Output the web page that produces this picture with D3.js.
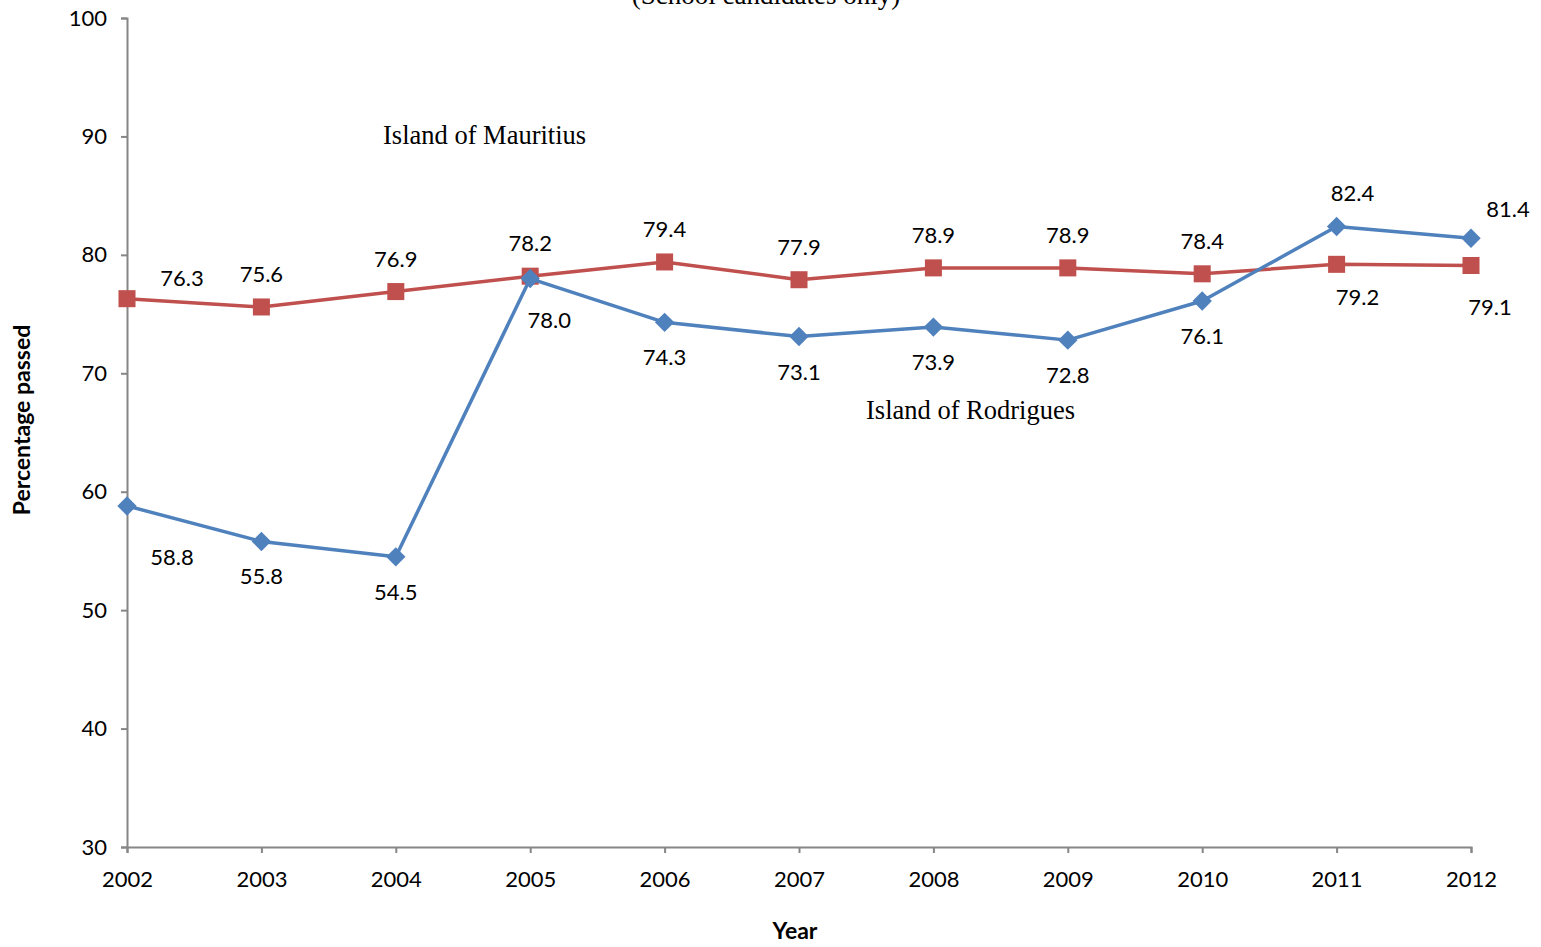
<!DOCTYPE html>
<html><head><meta charset="utf-8">
<script src="https://cdn.jsdelivr.net/npm/d3@7"></script>
<style>body{margin:0;background:#fff}svg{display:block}</style>
</head><body>
<script>
const years = [2002,2003,2004,2005,2006,2007,2008,2009,2010,2011,2012];
const mauritius = [76.3,75.6,76.9,78.2,79.4,77.9,78.9,78.9,78.4,79.2,79.1];
const rodrigues = [58.8,55.8,54.5,78.0,74.3,73.1,73.9,72.8,76.1,82.4,81.4];
const mauritiusLabelPos = ["ur","a","a","a","a","a","a","a","a","dr","drr"];
const rodriguesLabelPos = ["drf","b","b","drr","b","b","b","b","b","ul","ulr"];
const yTicks = [30,40,50,60,70,80,90,100];

const W=1541,H=947;
const svg=d3.select("body").append("svg").attr("width",W).attr("height",H);
const x=d3.scalePoint().domain(years).range([127,1471]);
const y=d3.scaleLinear().domain([30,100]).range([847,18]);
const axisColor="#868686";
const font="Lato, 'Open Sans', sans-serif";
const serif="'Liberation Serif', serif";

const ya=svg.append("g").attr("transform","translate(127,0)")
  .call(d3.axisLeft(y).tickValues(yTicks).tickSize(6).tickPadding(14));
const xa=svg.append("g").attr("transform","translate(0,847)")
  .call(d3.axisBottom(x).tickSize(6).tickPadding(18));
[ya,xa].forEach(a=>{
  a.selectAll("path,line").attr("stroke",axisColor).attr("stroke-width",2);
  a.selectAll("text").attr("font-family",font).attr("font-size",22).attr("fill","#000");
});

svg.append("text").attr("transform","translate(30,420) rotate(-90)")
  .attr("text-anchor","middle").attr("font-family",font).attr("font-weight","bold")
  .attr("font-size",23).text("Percentage passed");
svg.append("text").attr("x",795).attr("y",939).attr("text-anchor","middle")
  .attr("font-family",font).attr("font-weight","bold").attr("font-size",23).text("Year");

svg.append("text").attr("x",766).attr("y",4).attr("text-anchor","middle")
  .attr("font-family",serif).attr("font-size",27).text("(School candidates only)");

const line=d3.line().x(d=>x(d[0])).y(d=>y(d[1]));
const off={a:[0,-33],b:[0,35],ur:[55,-21],dr:[21,33],drr:[19,41],drf:[45,51],ul:[16,-33],ulr:[37,-29]};
function series(vals,color,shape,pos){
  const pts=years.map((yr,i)=>[yr,vals[i]]);
  svg.append("path").datum(pts).attr("d",line).attr("fill","none")
    .attr("stroke",color).attr("stroke-width",3.5).attr("stroke-linejoin","round");
  const sym=d3.symbol().type(shape==="square"?d3.symbolSquare:d3.symbolDiamond2)
    .size(shape==="square"?290:240);
  svg.selectAll(null).data(pts).enter().append("path")
    .attr("transform",d=>`translate(${x(d[0])},${y(d[1])})`)
    .attr("d",sym).attr("fill",color);
  svg.selectAll(null).data(pts).enter().append("text")
    .attr("x",(d,i)=>x(d[0])+off[pos[i]][0])
    .attr("y",(d,i)=>y(d[1])+off[pos[i]][1]+8)
    .attr("text-anchor","middle").attr("font-family",font).attr("font-size",22)
    .text(d=>d[1].toFixed(1));
}
series(mauritius,"#C0504D","square",mauritiusLabelPos);
series(rodrigues,"#4F81BD","diamond",rodriguesLabelPos);

svg.append("text").attr("x",383).attr("y",144).attr("font-family",serif)
  .attr("font-size",26.5).text("Island of Mauritius");
svg.append("text").attr("x",866).attr("y",419).attr("font-family",serif)
  .attr("font-size",26.5).text("Island of Rodrigues");
</script>
</body></html>
